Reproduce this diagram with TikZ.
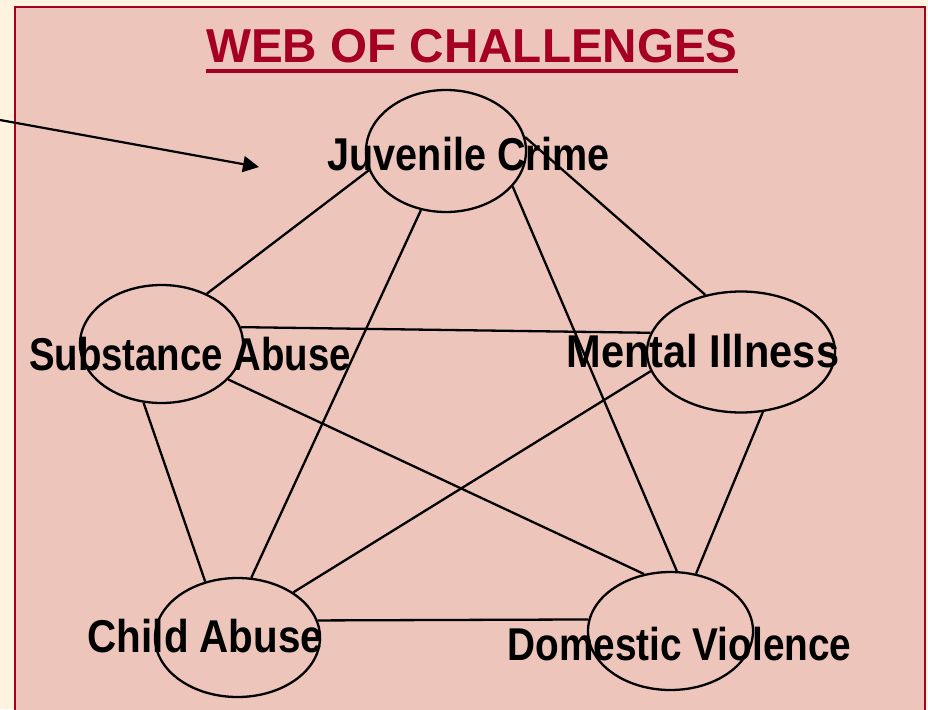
\documentclass[tikz,border=0pt]{standalone}
\usepackage{fontspec}
\setmainfont{Liberation Sans}
\newfontfamily\lblfont{Liberation Sans}[FakeStretch=0.86]
\usetikzlibrary{shapes.geometric,arrows.meta}
\definecolor{cream}{RGB}{253,243,222}
\definecolor{panel}{RGB}{237,197,187}
\definecolor{wine}{RGB}{165,0,33}
\begin{document}
\begin{tikzpicture}[x=1pt,y=-1pt,
  bubble/.style={ellipse, draw=black, line width=2.3pt, inner sep=0pt},
  link/.style={draw=black, line width=2.3pt},
  lbl/.style={font=\lblfont\bfseries\fontsize{46}{46}\selectfont, anchor=base, inner sep=0pt, text=black},
  titlestyle/.style={font=\bfseries\fontsize{47.6}{47.6}\selectfont, anchor=base, inner sep=0pt, text=wine}]
\fill[cream] (0,0) rectangle (928,709);
\useasboundingbox (0,0) rectangle (928,709);
\fill[panel] (15,7) rectangle (925,712);
\draw[wine, line width=2.5pt] (15,712) -- (15,7) -- (925,7) -- (925,712);

\node[titlestyle] (title) at (472,63) {WEB OF CHALLENGES};
\draw[wine, line width=3.5pt] ([yshift=-8pt]title.base west) -- ([yshift=-8pt]title.base east);

\node[bubble, minimum width=160pt, minimum height=122pt] (jc) at (446,151) {};
\node[bubble, minimum width=163pt, minimum height=118pt] (sa) at (161.5,344) {};
\node[bubble, minimum width=188pt, minimum height=121pt] (mi) at (741,352) {};
\node[bubble, minimum width=165pt, minimum height=119pt] (ca) at (237.5,637.5) {};
\node[bubble, minimum width=165pt, minimum height=118pt] (dv) at (670.5,631) {};

\draw[link] (jc.194) -- (sa.48);
\draw[link] (jc.247) -- (ca.77);
\draw[link] (jc.332) -- (dv.84);
\draw[link] (jc.10) -- (mi.122);
\draw[link] (sa.12) -- (mi.168);
\draw[link] (sa.253) -- (ca.120);
\draw[link] (sa.332) -- (dv.115);
\draw[link] (mi.192) -- (ca.39);
\draw[link] (mi.290) -- (dv.66);
\draw[link] (ca.12) -- (dv.172);

\node[lbl] (jct) at (468.5,170) {Juvenile Crime};
\node[lbl] (sat) at (190,370) {\scalebox{0.97}[1]{Substance Abuse}};
\node[lbl] (mit) at (703,367) {\scalebox{1.05}[1]{Mental Illness}};
\node[lbl] (cat) at (205.5,652) {\scalebox{1.02}[1]{Child Abuse}};
\node[lbl] (dvt) at (679.5,660) {\scalebox{0.98}[1]{Domestic Violence}};

\coordinate (arrowtail) at (0,120);
\coordinate (arrowtip) at (259,167);
\draw[black, line width=2.2pt, -{Triangle[length=16pt,width=16pt]}] (arrowtail) -- (arrowtip);
\end{tikzpicture}
\end{document}
